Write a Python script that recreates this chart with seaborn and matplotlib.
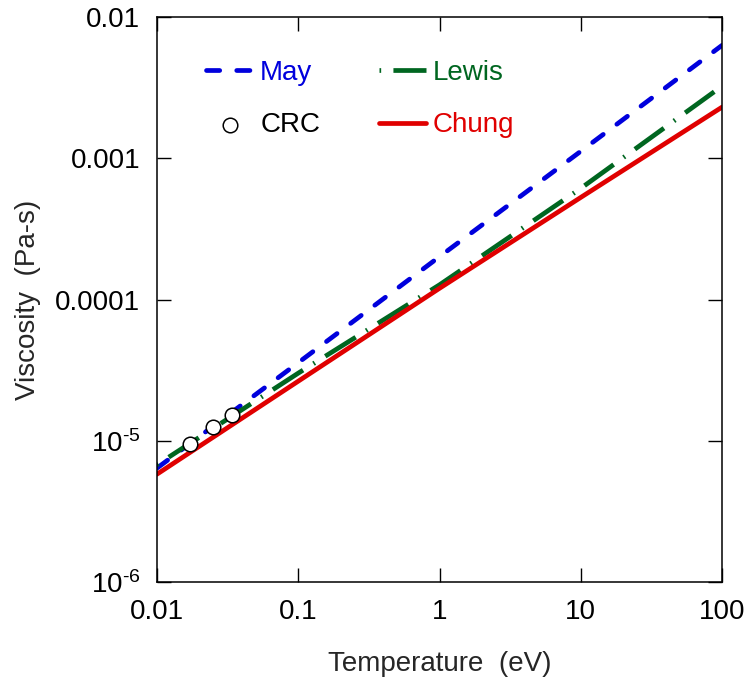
import numpy as np
import pandas as pd
import matplotlib
matplotlib.use("Agg")
import matplotlib.pyplot as plt
import seaborn as sns

# ---- data ----
temp_ev = [0.01, 0.1, 1.0, 10.0, 100.0]
may_visc = [6.4e-6, 3.57e-5, 2.01e-4, 1.12e-3, 6.3e-3]
lewis_visc = [6.76e-6, 3.01e-5, 1.27e-4, 6.12e-4, 3.24e-3]
chung_visc = [5.8e-6, 2.64e-5, 1.20e-4, 5.28e-4, 2.30e-3]
crc_temp = [0.0171, 0.0250, 0.0340]
crc_visc = [9.5e-6, 1.26e-5, 1.53e-5]

xticks = [0.01, 0.1, 1, 10, 100]
xticklabels = ["0.01", "0.1", "1", "10", "100"]
yticks = [1e-6, 1e-5, 1e-4, 1e-3, 1e-2]
yticklabels = [r"$\mathregular{10^{\text{-}6}}$", r"$\mathregular{10^{\text{-}5}}$", "0.0001", "0.001", "0.01"]

sns.set_style("ticks")
plt.rcParams["font.family"] = ["Liberation Sans", "DejaVu Sans"]
plt.rcParams["mathtext.fontset"] = "custom"
plt.rcParams["mathtext.rm"] = "Liberation Sans"
plt.rcParams["mathtext.it"] = "Liberation Sans:italic"

fig = plt.figure(figsize=(7.51, 6.86), dpi=100)
ax = fig.add_axes([157/751, 1-582/686, (722-157)/751, (582-17)/686])

blue = "#0000dd"
green = "#006620"
red = "#e00000"
LW = 3.4

sns.lineplot(x=temp_ev, y=may_visc, ax=ax, color=blue, lw=LW,
             linestyle=(0, (2.8, 3.6)), dash_capstyle="round", label="May")
sns.lineplot(x=temp_ev, y=lewis_visc, ax=ax, color=green, lw=LW,
             linestyle=(0, (0.35, 2.6, 7.6, 2.6)), dash_capstyle="butt", label="Lewis")
sns.lineplot(x=temp_ev, y=chung_visc, ax=ax, color=red, lw=LW, label="Chung")
sns.scatterplot(x=crc_temp, y=crc_visc, ax=ax, marker="o", s=110,
                facecolor="white", edgecolor="black", linewidth=1.1, zorder=5, label="CRC")

ax.set_xscale("log")
ax.set_yscale("log")
ax.set_xlim(0.01, 100)
ax.set_ylim(1e-6, 1e-2)
ax.set_xticks(xticks)
ax.set_xticklabels(xticklabels)
ax.set_yticks(yticks)
ax.set_yticklabels(yticklabels)
ax.minorticks_off()
ax.tick_params(which="major", direction="in", length=10, width=1, top=True, right=True,
               labelsize=20, pad=12, colors="black")
for s in ax.spines.values():
    s.set_visible(True)
    s.set_linewidth(1.1)
    s.set_color("black")

ax.set_xlabel("Temperature  (eV)", fontsize=20, labelpad=19)
ax.set_ylabel("Viscosity  (Pa-s)", fontsize=20, labelpad=10)

handles, labels = ax.get_legend_handles_labels()
hmap = dict(zip(labels, handles))
order = ["May", "CRC", "Lewis", "Chung"]
leg = ax.legend([hmap[k] for k in order], order, ncol=2, loc="upper left",
                bbox_to_anchor=((206-157)/565, 1-(60-17)/565), frameon=False,
                fontsize=20, handlelength=1.7, handletextpad=0.25, columnspacing=2.1,
                labelspacing=0.95, borderpad=0, borderaxespad=0)
tcolors = {"May": blue, "CRC": "black", "Lewis": green, "Chung": red}
for t in leg.get_texts():
    t.set_color(tcolors[t.get_text()])

fig.savefig("out.png", dpi=100)
